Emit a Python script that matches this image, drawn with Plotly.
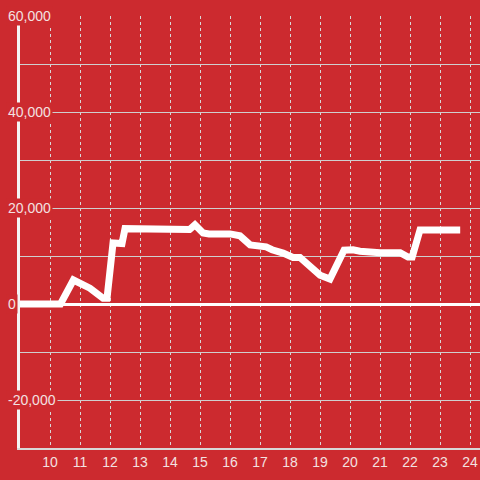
import plotly.graph_objects as go

# Hours of the day and the running value
hours = [9.0, 10.35, 10.78, 11.33, 11.77, 11.9, 12.1, 12.4, 12.5, 14.55, 14.65, 14.83,
         15.1, 15.3, 16.0, 16.33, 16.67, 17.2, 17.4, 17.77, 18.1, 18.33, 18.67, 19.0,
         19.33, 19.8, 20.1, 20.33, 21.0, 21.67, 21.93, 22.07, 22.33, 23.67]
values = [0, 0, 5000, 3300, 1200, 1200, 12700, 12600, 15700, 15700, 15500, 16500,
          14800, 14600, 14600, 14200, 12300, 11900, 11300, 10600, 9700, 9700, 7700, 6000,
          5200, 11200, 11300, 11000, 10700, 10700, 9800, 9800, 15400, 15400]

y_labels = [-20000, 0, 20000, 40000, 60000]
x_ticks = list(range(10, 25))

red = "#cc2a2f"
text_col = "#f3e1e1"

fig = go.Figure()
fig.add_trace(go.Scatter(x=hours, y=values, mode="lines",
                         line=dict(color="white", width=7), hoverinfo="skip"))

# y labels sit on top of the axis with a red box behind them
for v in y_labels:
    fig.add_annotation(x=-0.031, xref="paper", xanchor="left", y=v, yref="y",
                       text=f"{v:,}", showarrow=False, bgcolor=red, borderpad=1,
                       font=dict(family="Liberation Sans, Arial", size=14, color=text_col))

fig.update_layout(
    width=480, height=480,
    margin=dict(l=20, r=0, t=16, b=32),
    paper_bgcolor=red, plot_bgcolor=red,
    showlegend=False,
    font=dict(family="Liberation Sans, Arial", size=14, color=text_col),
    xaxis=dict(range=[9, 24.33], tickvals=x_ticks, showgrid=True,
               gridcolor="#d8d8d8", griddash="dot", gridwidth=1,
               showline=True, linecolor="#d8d8d8", linewidth=2,
               zeroline=False, ticks="", tickfont=dict(size=14, color=text_col)),
    yaxis=dict(range=[-30000, 60000], dtick=10000, showticklabels=False,
               showgrid=True, gridcolor="#cfcfcf", gridwidth=1,
               zeroline=True, zerolinecolor="white", zerolinewidth=3,
               showline=True, linecolor="#f4f4f4", linewidth=3, ticks=""),
)

fig.write_html("out.html", config={"displayModeBar": False},
               post_script="document.body.style.margin='0';")
